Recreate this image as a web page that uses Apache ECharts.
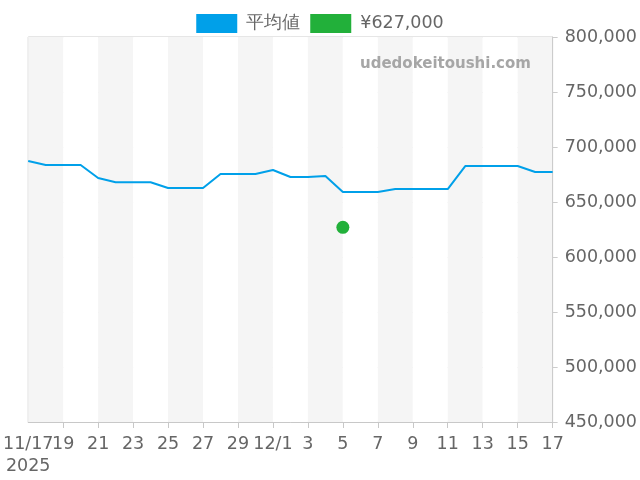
<!DOCTYPE html>
<html><head><meta charset="utf-8">
<script src="https://cdn.jsdelivr.net/npm/echarts@6/dist/echarts.min.js"></script>
<style>html,body{margin:0;padding:0;background:#fff}#c{width:640px;height:480px}</style>
</head><body><div id="c"></div>
<script>
const categories = ['11/17','11/18','11/19','11/20','11/21','11/22','11/23','11/24','11/25','11/26','11/27','11/28','11/29','11/30','12/1','12/2','12/3','12/4','12/5','12/6','12/7','12/8','12/9','12/10','12/11','12/12','12/13','12/14','12/15','12/16','12/17'];
const avgValues = [687300,683600,683600,683600,671800,668000,668000,668000,662700,662700,662700,675500,675500,675500,679100,672700,672700,673600,659100,659100,659100,661800,661800,661800,661800,682700,682700,682700,682700,677300,677300];
const pointName = '¥627,000';
const pointData = [['12/5', 627000]];
const yTicks = {min:450000, max:800000, interval:50000};

const chart = echarts.init(document.getElementById('c'));
function fmtLabel(v, i){
  const parts = v.split('/');
  if (i === 0) return v + '\n2025';
  if (parts[1] === '1') return v;
  return parts[1];
}
const labelStyle = {fontSize:17.5, lineHeight:22, color:'#666', margin:11};
chart.setOption({
  animation:false,
  textStyle:{fontFamily:'DejaVu Sans'},
  legend:{top:9, left:'center', itemWidth:41, itemHeight:19, itemGap:10,
    textStyle:{fontSize:17.5, color:'#666', padding:[0,0,0,4]},
    data:[{name:'平均値', icon:'rect'},{name:pointName, icon:'rect'}]},
  graphic:[{type:'text', z:100, zlevel:1, left:360, top:57, style:{text:'udedokeitoushi.com', fontSize:15, fontWeight:'bold', fill:'#a6a6a6', fontFamily:'DejaVu Sans'}}],
  grid:{left:28, right:87, top:37, bottom:58, show:true, borderColor:'#ccc', borderWidth:1},
  xAxis:[
    {type:'category', data:categories, boundaryGap:false,
    axisLine:{lineStyle:{color:'#c8c8c8'}},
    axisTick:{show:true, interval:1, length:6, lineStyle:{color:'#c8c8c8'}},
    axisLabel:Object.assign({interval:1, formatter:fmtLabel}, labelStyle),
    splitLine:{show:false},
    splitArea:{show:true, interval:1, areaStyle:{color:['#f5f5f5','#ffffff']}}},
    {type:'category', data:categories, boundaryGap:false, position:'bottom',
    axisLine:{show:false}, axisTick:{show:false}, splitLine:{show:false}, splitArea:{show:false},
    axisLabel:Object.assign({interval:(i)=>i===0, showMinLabel:true, showMaxLabel:false, formatter:fmtLabel}, labelStyle)}
  ],
  yAxis:{type:'value', position:'right', min:yTicks.min, max:yTicks.max, interval:yTicks.interval,
    axisLine:{show:true, lineStyle:{color:'#ccc'}},
    axisTick:{show:true, lineStyle:{color:'#ccc'}},
    axisLabel:{fontSize:17.5, color:'#666', margin:12, formatter:v=>v.toLocaleString('en-US')},
    splitLine:{lineStyle:{color:'#e4e4e4'}}},
  series:[
    {name:'平均値', type:'line', data:avgValues, showSymbol:false, symbol:'none', color:'#00a0e9', lineStyle:{width:2, color:'#00a0e9'}},
    {name:pointName, type:'scatter', data:pointData, symbolSize:13, color:'#22b03a', itemStyle:{color:'#22b03a', opacity:1}}
  ]
});
</script></body></html>
